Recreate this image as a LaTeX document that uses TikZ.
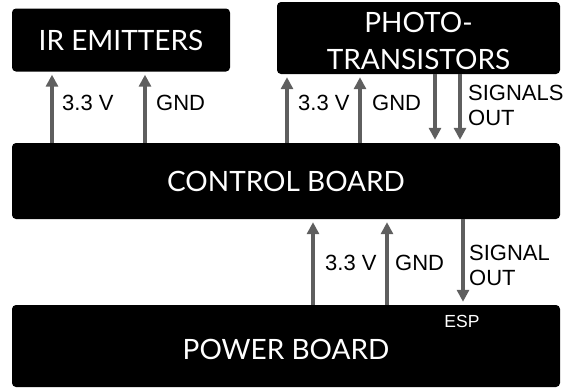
\documentclass[tikz,border=0pt]{standalone}
\usepackage{fontspec}
\setmainfont{Lato}
\newfontfamily\labelfont{Liberation Sans}
\usetikzlibrary{arrows.meta}

\begin{document}
\begin{tikzpicture}[
        x=1pt, y=-1pt,
        board/.style={
            rectangle,
            fill=black,
            rounded corners=4pt,
            align=center,
            text=white,
            inner sep=0pt,
            font=\fontsize{28}{37}\selectfont
        },
        pipe/.style={-{Triangle[length=12pt, width=12pt]}, line width=3.5pt, draw=wire, shorten >=3pt},
        lbl/.style={anchor=west, inner sep=0pt, align=left, font=\labelfont\fontsize{22}{25}\selectfont}
    ]
    \definecolor{wire}{HTML}{5F5F5F}
    \useasboundingbox (0,0) rectangle (566,389);

    % boards
    \node[board, minimum width=218pt, minimum height=63pt] (ir) at (121,40) {IR EMITTERS};
    \node[board, minimum width=283pt, minimum height=72pt] (photo) at (418.5,38) {};
    \node[board] (photot) at (418.5,41) {PHOTO-\\TRANSISTORS};
    \node[board, minimum width=548pt, minimum height=76pt] (ctrl) at (286,181) {CONTROL BOARD};
    \node[board, minimum width=548pt, minimum height=82pt] (power) at (286,346) {};
    \node[board] (powert) at (286,349) {POWER BOARD};
    \node[text=white, inner sep=0pt, font=\labelfont\fontsize{17.5}{20}\selectfont] (esp) at (462,321) {ESP};

    % control board to ir emitters
    \draw[pipe] (ctrl.north -| 52,0) -- (ir.south -| 52,0);
    \draw[pipe] (ctrl.north -| 145,0) -- (ir.south -| 145,0);
    \node[lbl] (irv) at (62,103) {3.3 V};
    \node[lbl] (irg) at (156,103) {GND};

    % control board to phototransistors
    \draw[pipe] (ctrl.north -| 287,0) -- (photo.south -| 287,0);
    \draw[pipe] (ctrl.north -| 360,0) -- (photo.south -| 360,0);
    \node[lbl] (phv) at (298,103) {3.3 V};
    \node[lbl] (phg) at (372,103) {GND};
    \draw[pipe] (photo.south -| 435,0) -- (ctrl.north -| 435,0);
    \draw[pipe] (photo.south -| 460,0) -- (ctrl.north -| 460,0);
    \node[lbl] (phs) at (468,105.5) {SIGNALS\\OUT};

    % power board to control board
    \draw[pipe] (power.north -| 313,0) -- (ctrl.south -| 313,0);
    \draw[pipe] (power.north -| 387,0) -- (ctrl.south -| 387,0);
    \node[lbl] (pwv) at (325,263) {3.3 V};
    \node[lbl] (pwg) at (395,263) {GND};
    \draw[pipe] (ctrl.south -| 463,0) -- (power.north -| 463,0);
    \node[lbl] (pws) at (469,265.5) {SIGNAL\\OUT};
\end{tikzpicture}
\end{document}
